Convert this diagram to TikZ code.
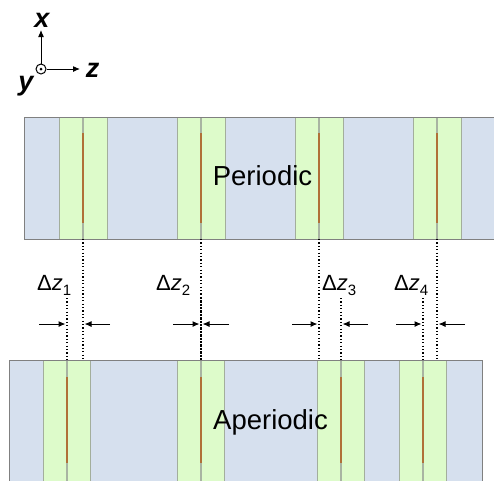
\documentclass[tikz,border=0pt]{standalone}
\usepackage{fontspec}
\setmainfont{Liberation Sans}
\usetikzlibrary{arrows.meta}
\definecolor{bandblue}{HTML}{D6E0EE}
\definecolor{stripgreen}{HTML}{DDFBCA}
\definecolor{brd}{HTML}{808080}
\definecolor{stripbrd}{HTML}{A3AE9C}
\definecolor{divgray}{HTML}{A8B4A2}
\definecolor{brownline}{HTML}{B07038}
\tikzset{
  band/.style={fill=bandblue},
  bandedge/.style={draw=brd,line width=0.8pt},
  strip/.style={fill=stripgreen,draw=stripbrd,line width=0.6pt},
  divider/.style={draw=divgray,line width=2.4pt},
  brownl/.style={draw=brownline,line width=1.3pt},
  dots/.style={draw=black,line width=1.2pt,dash pattern=on 1.2pt off 2.2pt},
  marker/.style={draw=black,line width=1pt,-{Latex[length=7pt,width=6pt]}},
  axis/.style={draw=black,line width=1pt,-{Latex[length=7pt,width=6pt]}},
  dzlabel/.style={inner sep=0pt,anchor=base west,font=\fontsize{22}{22}\selectfont},
  axlabel/.style={inner sep=0pt,anchor=base,font=\fontsize{27}{27}\selectfont\bfseries\itshape},
  title/.style={inner sep=0pt,anchor=base,font=\fontsize{27.5}{27.5}\selectfont}
}
\begin{document}
\begin{tikzpicture}[x=1pt,y=-1pt]
\useasboundingbox (0,0) rectangle (494,480);
\begin{scope}
\clip (0,0) rectangle (494,480);
% top band
\fill[band] (24,117) rectangle (500,239);
\foreach \c in {83,201,319,437}{
  \draw[strip] (\c-24,117) rectangle (\c+24,239);
  \draw[divider] (\c,117) -- (\c,239);
  \draw[brownl] (\c,133) -- (\c,223);
}
\draw[bandedge] (500,117) -- (24,117) -- (24,239) -- (500,239);
% bottom band
\fill[band] (9,360) rectangle (482,490);
\foreach \c in {67,201,341,423}{
  \draw[strip] (\c-23.5,360) rectangle (\c+23.5,490);
  \draw[divider] (\c,360) -- (\c,490);
  \draw[brownl] (\c,377) -- (\c,463);
}
\draw[bandedge] (9,490) -- (9,360) -- (482,360) -- (482,490);
\end{scope}

% titles
\node[title] (per) at (262.5,185) {Periodic};
\node[title] (aper) at (270.5,429) {Aperiodic};

% reference coordinates
\foreach \n/\c in {t1/83,t2/201,t3/319,t4/437}{
  \coordinate (\n top) at (\c,239);
  \coordinate (\n bot) at (\c,360);
}
\foreach \n/\c in {b1/67,b2/201,b3/341,b4/423}{
  \coordinate (\n top) at (\c,298);
  \coordinate (\n bot) at (\c,360);
}
\foreach \n in {t1,t2,t3,t4,b1,b2,b3,b4}{
  \draw[dots] (\n top) -- (\n bot);
}

% arrows
\coordinate (a1s) at (39,324);  \coordinate (a1e) at (65.5,324);
\coordinate (a1r) at (110,324); \coordinate (a1f) at (84.5,324);
\coordinate (a2s) at (173,324); \coordinate (a2e) at (199.5,324);
\coordinate (a2r) at (229,324); \coordinate (a2f) at (202.5,324);
\coordinate (a3s) at (292,324); \coordinate (a3e) at (317.5,324);
\coordinate (a3r) at (368,324); \coordinate (a3f) at (342.5,324);
\coordinate (a4s) at (396,324); \coordinate (a4e) at (421.5,324);
\coordinate (a4r) at (465,324); \coordinate (a4f) at (438.5,324);
\foreach \i in {1,2,3,4}{
  \draw[marker] (a\i s) -- (a\i e);
  \draw[marker] (a\i r) -- (a\i f);
}

% labels
\node[dzlabel] (dz1) at (37,290) {Δ\textit{z}\raisebox{-5pt}{\fontsize{15}{15}\selectfont 1}};
\node[dzlabel] (dz2) at (156,290) {Δ\textit{z}\raisebox{-5pt}{\fontsize{15}{15}\selectfont 2}};
\node[dzlabel] (dz3) at (322,290) {Δ\textit{z}\raisebox{-5pt}{\fontsize{15}{15}\selectfont 3}};
\node[dzlabel] (dz4) at (394,290) {Δ\textit{z}\raisebox{-5pt}{\fontsize{15}{15}\selectfont 4}};

% axes
\node[circle,draw=black,line width=1pt,minimum size=10pt,inner sep=0pt] (o) at (41,69) {};
\fill[black] (o.center) circle (1.5pt);
\coordinate (xend) at (41,30);
\coordinate (zend) at (80,69);
\draw[axis] (o.north) -- (xend);
\draw[axis] (o.east) -- (zend);
\node[axlabel] (xl) at (42,27) {x};
\node[axlabel] (zl) at (92.5,77) {z};
\node[axlabel] (yl) at (26,90) {y};
\end{tikzpicture}
\end{document}
